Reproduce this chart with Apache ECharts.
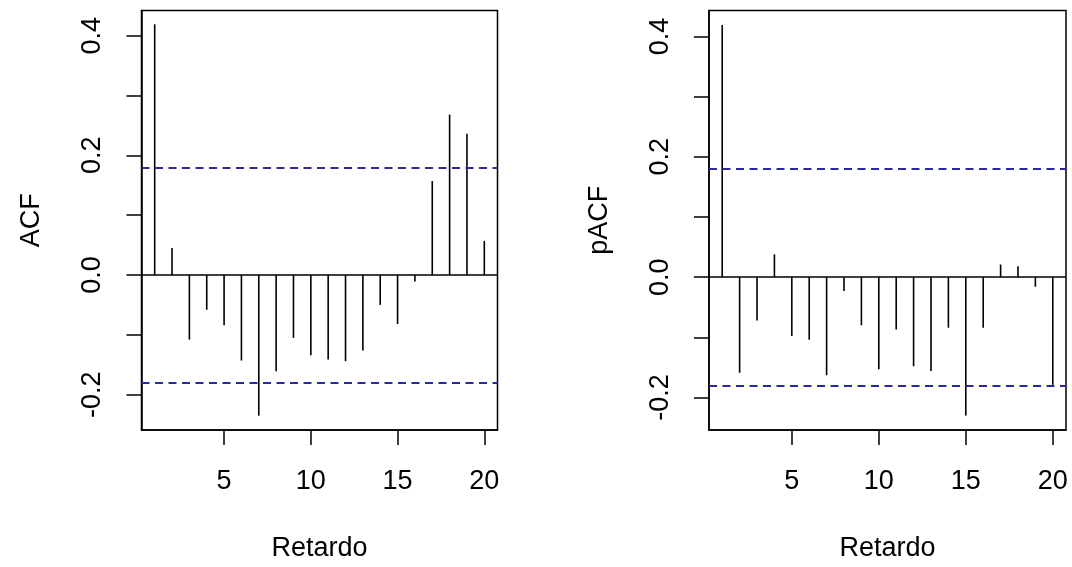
<!DOCTYPE html>
<html>
<head>
<meta charset="utf-8">
<script src="https://cdn.jsdelivr.net/npm/echarts@6/dist/echarts.min.js"></script>
<style>
  html, body { margin: 0; padding: 0; background: #fff; }
  #chart { width: 1072px; height: 567px; }
</style>
</head>
<body>
<div id="chart"></div>
<script>
// Lags and correlogram values
const lags = [1, 2, 3, 4, 5, 6, 7, 8, 9, 10, 11, 12, 13, 14, 15, 16, 17, 18, 19, 20];
const acfValues = [0.419, 0.045, -0.108, -0.058, -0.084, -0.143, -0.235, -0.161, -0.105, -0.134,
                   -0.141, -0.144, -0.126, -0.050, -0.082, -0.011, 0.157, 0.268, 0.236, 0.057];
const pacfValues = [0.419, -0.159, -0.072, 0.038, -0.098, -0.104, -0.163, -0.023, -0.080, -0.153,
                    -0.087, -0.148, -0.156, -0.084, -0.230, -0.084, 0.021, 0.018, -0.016, -0.179];
// 95% confidence bound
const ciBound = 0.178;

// Axis ticks and labels
const xTicks = [5, 10, 15, 20];
const yTicks = [-0.2, -0.1, 0.0, 0.1, 0.2, 0.3, 0.4];
const yLabels = [-0.2, 0.0, 0.2, 0.4];

// Axis limits for each panel
const xRange = [0.24, 20.76];
const acfRange = [-0.259, 0.442];
const pacfRange = [-0.254, 0.443];

const FONT = '"Liberation Sans", Arial, sans-serif';
const FS = 27;
const ink = '#000';
const ciColor = '#2a2a9c';

function pairs(vals) { return lags.map((l, i) => [l, vals[i]]); }

function xAxisFor(gridIndex) {
  return {
    type: 'value', gridIndex,
    min: xRange[0], max: xRange[1],
    name: 'Retardo', nameLocation: 'middle', nameGap: 105,
    nameTextStyle: { fontFamily: FONT, fontSize: FS, color: ink },
    axisLine: { show: true, onZero: false, lineStyle: { color: ink, width: 1.5 } },
    axisTick: { show: true, length: 15, lineStyle: { color: ink, width: 1.5 }, customValues: xTicks },
    axisLabel: { fontFamily: FONT, fontSize: FS, color: ink, margin: 38, customValues: xTicks },
    splitLine: { show: false }
  };
}

function yAxisFor(gridIndex, range, title) {
  return {
    type: 'value', gridIndex,
    min: range[0], max: range[1],
    name: title, nameLocation: 'middle', nameRotate: 90, nameGap: 96,
    nameTextStyle: { fontFamily: FONT, fontSize: FS, color: ink },
    axisLine: { show: true, onZero: false, lineStyle: { color: ink, width: 1.5 } },
    axisTick: { show: true, length: 15, lineStyle: { color: ink, width: 1.5 }, customValues: yTicks },
    axisLabel: {
      fontFamily: FONT, fontSize: FS, color: ink, margin: 35, rotate: 90,
      customValues: yLabels,
      formatter: v => v.toFixed(1)
    },
    splitLine: { show: false }
  };
}

// Vertical spikes from zero to each correlation value
function spikeSeries(idx, vals) {
  return {
    type: 'custom', xAxisIndex: idx, yAxisIndex: idx,
    data: pairs(vals),
    renderItem: function (params, api) {
      const p0 = api.coord([api.value(0), 0]);
      const p1 = api.coord([api.value(0), api.value(1)]);
      return {
        type: 'line',
        shape: { x1: p0[0], y1: p0[1], x2: p1[0], y2: p1[1] },
        style: { stroke: ink, lineWidth: 1.6 }
      };
    },
    markLine: {
      silent: true, symbol: 'none', animation: false,
      label: { show: false },
      data: [
        { yAxis: 0, lineStyle: { color: ink, width: 1.5, type: 'solid' } },
        { yAxis: ciBound, lineStyle: { color: ciColor, width: 2, type: [8, 5.5] } },
        { yAxis: -ciBound, lineStyle: { color: ciColor, width: 2, type: [8, 5.5] } }
      ]
    },
    z: 3
  };
}

const chart = echarts.init(document.getElementById('chart'), null, { renderer: 'canvas' });
chart.setOption({
  animation: false,
  backgroundColor: '#fff',
  grid: [
    { left: 141.5, top: 10.5, width: 356, height: 423, show: true, borderColor: ink, borderWidth: 1.5, backgroundColor: 'transparent' },
    { left: 709, top: 10.5, width: 357, height: 423, show: true, borderColor: ink, borderWidth: 1.5, backgroundColor: 'transparent' }
  ],
  xAxis: [xAxisFor(0), xAxisFor(1)],
  yAxis: [yAxisFor(0, acfRange, 'ACF'), yAxisFor(1, pacfRange, 'pACF')],
  series: [spikeSeries(0, acfValues), spikeSeries(1, pacfValues)]
});
</script>
</body>
</html>
